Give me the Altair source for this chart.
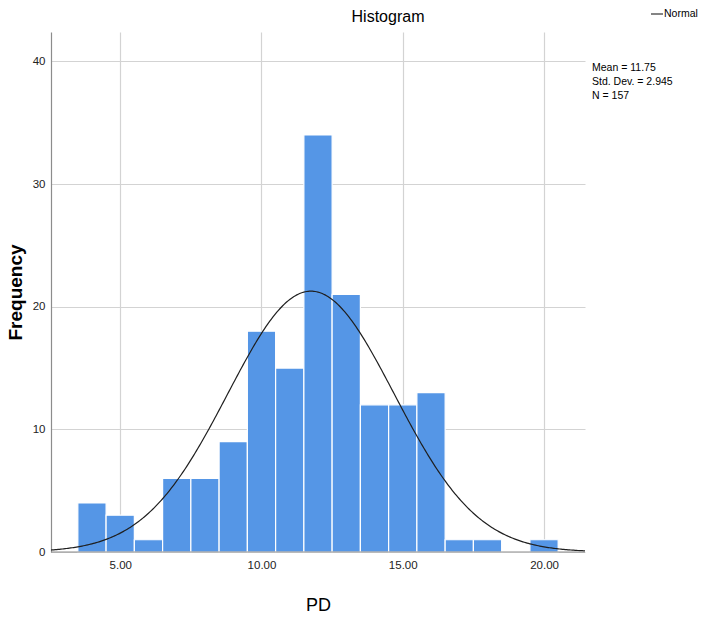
import altair as alt
import pandas as pd

# Histogram of PD: lower edge of each unit-wide bin and its frequency
BIN_START = [3.5, 4.5, 5.5, 6.5, 7.5, 8.5, 9.5, 10.5, 11.5, 12.5,
             13.5, 14.5, 15.5, 16.5, 17.5, 18.5, 19.5]
COUNTS = [4, 3, 1, 6, 6, 9, 18, 15, 34, 21, 12, 12, 13, 1, 1, 0, 1]
BIN_WIDTH = 1.0

# Summary statistics shown beside the plot; the normal curve is fitted from them
MEAN, SD, N = 11.75, 2.945, 157
STATS = ["Mean = 11.75", "Std. Dev. = 2.945", "N = 157"]

X_TICKS = [5, 10, 15, 20]
Y_TICKS = [0, 10, 20, 30, 40]
X_DOMAIN = [2.55, 21.45]
Y_DOMAIN = [0, 42.4]

FONT = "Liberation Sans, Arial"

bars_df = pd.DataFrame({
    "start": BIN_START,
    "end": [s + BIN_WIDTH for s in BIN_START],
    "count": COUNTS,
})

x_scale = alt.Scale(domain=X_DOMAIN, nice=False, zero=False, padding=0)
y_scale = alt.Scale(domain=Y_DOMAIN, nice=False, padding=0)

bars = alt.Chart(bars_df).mark_bar(
    color="#5596E6", stroke="#ffffff", strokeWidth=1.2
).encode(
    x=alt.X("start:Q", scale=x_scale,
            axis=alt.Axis(values=X_TICKS, format=".2f", title="PD",
                          domain=False, labelPadding=7,
                          titleFont=FONT, titleFontSize=18,
                          titleFontWeight="normal", titleColor="#000",
                          titleX=267, titleY=53, titleBaseline="middle")),
    x2="end:Q",
    y=alt.Y("count:Q", scale=y_scale,
            axis=alt.Axis(values=Y_TICKS, title="Frequency",
                          labelPadding=6,
                          titleFont=FONT, titleFontSize=19,
                          titleFontWeight="bold", titleColor="#000",
                          titleAngle=-90, titleX=-36, titleY=260,
                          titleBaseline="middle", titleAlign="center")),
    y2=alt.datum(0),
)

# Fitted normal density scaled to counts per bin
curve = alt.Chart(alt.sequence(X_DOMAIN[0], X_DOMAIN[1] + 0.01, 0.05, as_="x")).transform_calculate(
    y=f"{N}*{BIN_WIDTH}/({SD}*sqrt(2*PI))*exp(-0.5*pow((datum.x-{MEAN})/{SD},2))"
).mark_line(color="#1f1f1f", strokeWidth=1.2).encode(
    x=alt.X("x:Q", scale=x_scale),
    y=alt.Y("y:Q", scale=y_scale),
)

baseline = alt.Chart(pd.DataFrame({"y": [0]})).mark_rule(
    color="#8c8c8c", strokeWidth=1.2
).encode(
    y=alt.Y("y:Q", scale=y_scale),
    x=alt.value(0), x2=alt.value(534),
)

one = pd.DataFrame({"k": [0]})

title = alt.Chart(one).mark_text(
    text="Histogram", font=FONT, fontSize=16, color="#000",
    align="center", baseline="middle"
).encode(x=alt.value(337), y=alt.value(-15))

legend_line = alt.Chart(one).mark_rule(color="#333", strokeWidth=1.2).encode(
    x=alt.value(600), x2=alt.value(612), y=alt.value(-18)
)
legend_text = alt.Chart(one).mark_text(
    text="Normal", font=FONT, fontSize=10.5, color="#000",
    align="left", baseline="middle"
).encode(x=alt.value(613), y=alt.value(-18))

stats = alt.Chart(one).mark_text(
    font=FONT, fontSize=10.5, color="#000", align="left",
    baseline="middle", lineHeight=14
).encode(x=alt.value(541), y=alt.value(36), text=alt.value(STATS))

chart = alt.layer(
    bars, curve, baseline, title, legend_line, legend_text, stats
).properties(
    width=534, height=520,
    autosize=alt.AutoSizeParams(type="none"),
    padding={"left": 51, "top": 32, "right": 118, "bottom": 67},
).configure_view(
    stroke=None
).configure_axis(
    grid=True, gridColor="#d3d3d3", gridWidth=1.2,
    domainColor="#8c8c8c", domainWidth=1.2,
    ticks=False, labelFont=FONT, labelFontSize=11.5, labelColor="#222",
)

chart.save("out.html", embed_options={"renderer": "svg", "actions": False})
